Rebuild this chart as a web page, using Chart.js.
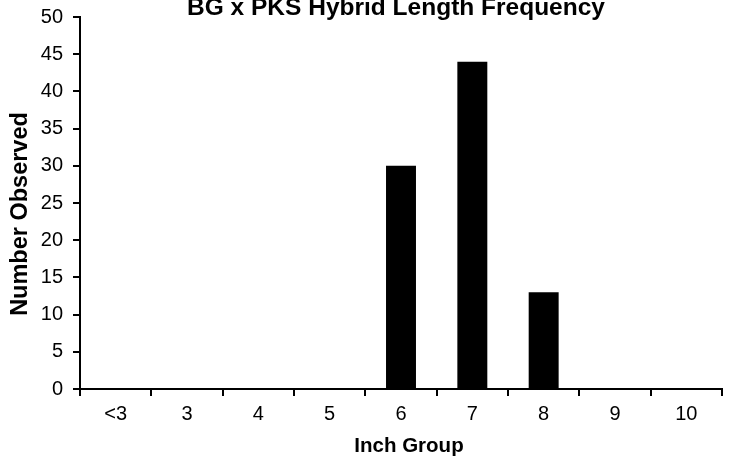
<!DOCTYPE html>
<html><head><meta charset="utf-8">
<script src="https://cdn.jsdelivr.net/npm/chart.js@4"></script>
<style>html,body{margin:0;padding:0;background:#fff}#wrap{width:734px;height:464px}</style>
</head><body><div id="wrap"><canvas id="c" width="734" height="464"></canvas></div>
<script>
const categories = ['<3','3','4','5','6','7','8','9','10'];
const observed = [0,0,0,0,30,44,13,0,0];
const yTicks = [0,5,10,15,20,25,30,35,40,45,50];
const titleText = 'BG x PKS Hybrid Length Frequency';
const xTitle = 'Inch Group';
const yTitle = 'Number Observed';

const ff = '"Liberation Sans", Arial, sans-serif';

const titlesPlugin = {
  id: 'titles',
  afterDraw(chart) {
    const ctx = chart.ctx, a = chart.chartArea;
    ctx.save();
    ctx.fillStyle = '#000';
    ctx.textAlign = 'center';
    ctx.textBaseline = 'alphabetic';
    ctx.font = 'bold 24.5px ' + ff;
    ctx.fillText(titleText, (a.left + a.right) / 2 - 5, 15);
    ctx.font = 'bold 20.5px ' + ff;
    ctx.fillText(xTitle, (a.left + a.right) / 2 + 8, 452);
    ctx.font = 'bold 23.5px ' + ff;
    ctx.translate(27, (a.top + a.bottom) / 2 + 11);
    ctx.rotate(-Math.PI / 2);
    ctx.fillText(yTitle, 0, 0);
    ctx.restore();
  }
};

new Chart(document.getElementById('c'), {
  type: 'bar',
  data: { labels: categories, datasets: [{ data: observed, backgroundColor: '#000', borderWidth: 0, barPercentage: 0.42, categoryPercentage: 1 }] },
  options: {
    responsive: false, animation: false,
    layout: { padding: { left: 0, right: 12, top: 17, bottom: 0 } },
    plugins: { legend: { display: false }, tooltip: { enabled: false }, title: { display: false } },
    scales: {
      x: {
        offset: true,
        grid: { display: true, drawOnChartArea: false, drawTicks: true, tickLength: 7, offset: true, color: '#000', lineWidth: 2 },
        border: { display: true, color: '#000', width: 2 },
        ticks: { color: '#000', font: { family: ff, size: 20 }, padding: 6, maxRotation: 0 },
        title: { display: false },
        afterFit: s => { s.height = 75; s.paddingLeft = 0; s.paddingRight = 0; }
      },
      y: {
        min: 0, max: 50,
        afterBuildTicks: s => { s.ticks = yTicks.map(v => ({ value: v })); },
        grid: { display: true, drawOnChartArea: false, drawTicks: true, tickLength: 7, color: '#000', lineWidth: 2 },
        border: { display: true, color: '#000', width: 2 },
        ticks: { color: '#000', font: { family: ff, size: 20 }, padding: 10 },
        title: { display: false },
        afterFit: s => { s.width = 80; s.paddingTop = 0; s.paddingBottom = 0; }
      }
    }
  },
  plugins: [titlesPlugin]
});
</script></body></html>
